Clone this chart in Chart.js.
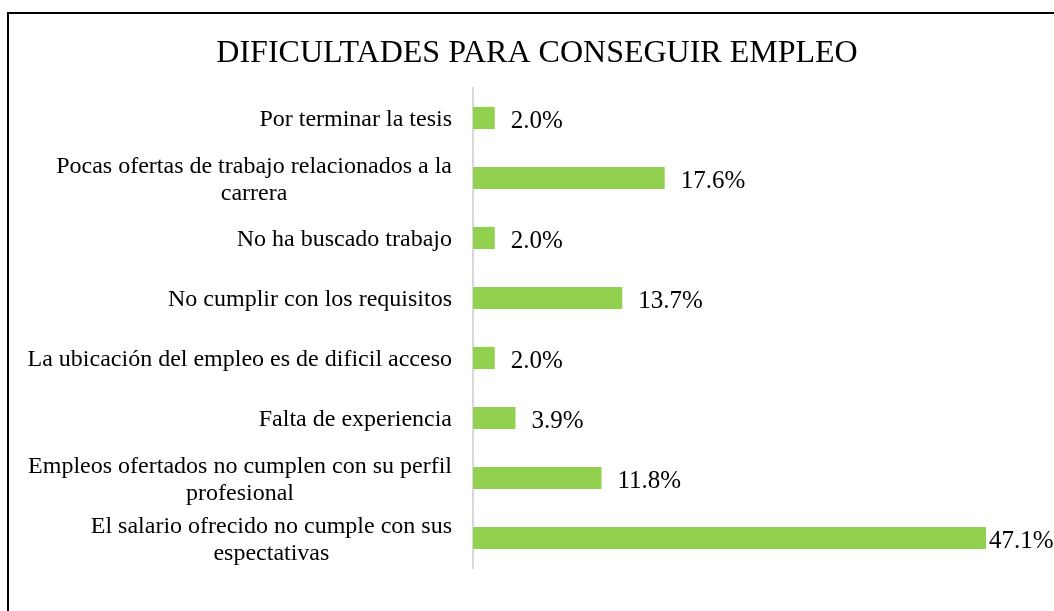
<!DOCTYPE html>
<html>
<head>
<meta charset="utf-8">
<script src="https://cdn.jsdelivr.net/npm/chart.js@4/dist/chart.umd.min.js"></script>
<style>
  html, body { margin: 0; padding: 0; background: #fff; }
  #graph { display: block; }
</style>
</head>
<body>
<canvas id="graph" width="1054" height="611"></canvas>
<script>
const chartTitle = "DIFICULTADES PARA CONSEGUIR EMPLEO";
const categories = [
    ["Por terminar la tesis"],
    ["Pocas ofertas de trabajo relacionados a la", "carrera"],
    ["No ha buscado trabajo"],
    ["No cumplir con los requisitos"],
    ["La ubicación del empleo es de dificil acceso"],
    ["Falta de experiencia"],
    ["Empleos ofertados no cumplen con su perfil", "profesional"],
    ["El salario ofrecido no cumple con sus", "espectativas"]
];
const percentages = [2.0, 17.6, 2.0, 13.7, 2.0, 3.9, 11.8, 47.1];

const serif = '"Liberation Serif", "Times New Roman", serif';

// frame, title, category labels and value labels
const textPlugin = {
    id: 'texts',
    afterDraw(chart) {
        const ctx = chart.ctx;
        const yScale = chart.scales.y;
        const area = chart.chartArea;
        ctx.save();

        // outer frame (only left and top edges are visible)
        ctx.strokeStyle = '#000';
        ctx.lineWidth = 2;
        ctx.beginPath();
        ctx.moveTo(8, chart.height + 5);
        ctx.lineTo(8, 13);
        ctx.lineTo(chart.width + 5, 13);
        ctx.stroke();

        // title
        ctx.fillStyle = '#000';
        ctx.font = '32px ' + serif;
        ctx.textAlign = 'center';
        ctx.textBaseline = 'middle';
        ctx.fillText(chartTitle, 537, 54);

        // category labels: block right aligned, lines centered in block
        ctx.font = '24px ' + serif;
        const lineH = 27;
        const rightEdge = area.left - 21;
        categories.forEach((lines, i) => {
            const yc = yScale.getPixelForValue(i);
            const w = Math.max(...lines.map(l => ctx.measureText(l).width));
            const cx = rightEdge - w / 2;
            const y0 = yc - (lines.length - 1) * lineH / 2 + 2;
            lines.forEach((l, k) => ctx.fillText(l, cx, y0 + k * lineH));
        });

        // value labels
        ctx.font = '25px ' + serif;
        ctx.textAlign = 'left';
        const meta = chart.getDatasetMeta(0);
        meta.data.forEach((bar, i) => {
            const txt = percentages[i].toFixed(1) + '%';
            const tw = ctx.measureText(txt).width;
            let x = bar.x + 16;
            if (x + tw > chart.width + 2) x = bar.x + 3;
            ctx.fillText(txt, x, bar.y + 3);
        });
        ctx.restore();
    }
};

const graph = document.getElementById('graph');
let bargraph = new Chart(graph, {
    type: 'bar',
    data: {
        labels: categories,
        datasets: [{
            data: percentages,
            backgroundColor: "#92D050",
            borderWidth: 0,
            barPercentage: 0.37,
            categoryPercentage: 1
        }]
    },
    options: {
        indexAxis: 'y',
        responsive: false,
        animation: false,
        layout: { padding: { left: 465, right: 68, top: 88, bottom: 43 } },
        plugins: {
            legend: { display: false },
            title: { display: false },
            tooltip: { enabled: false }
        },
        scales: {
            x: {
                display: false,
                min: 0,
                max: 47.1
            },
            y: {
                ticks: { display: false },
                grid: { display: false },
                border: { display: true, color: '#d9d9d9', width: 2 }
            }
        }
    },
    plugins: [textPlugin]
});
</script>
</body>
</html>
